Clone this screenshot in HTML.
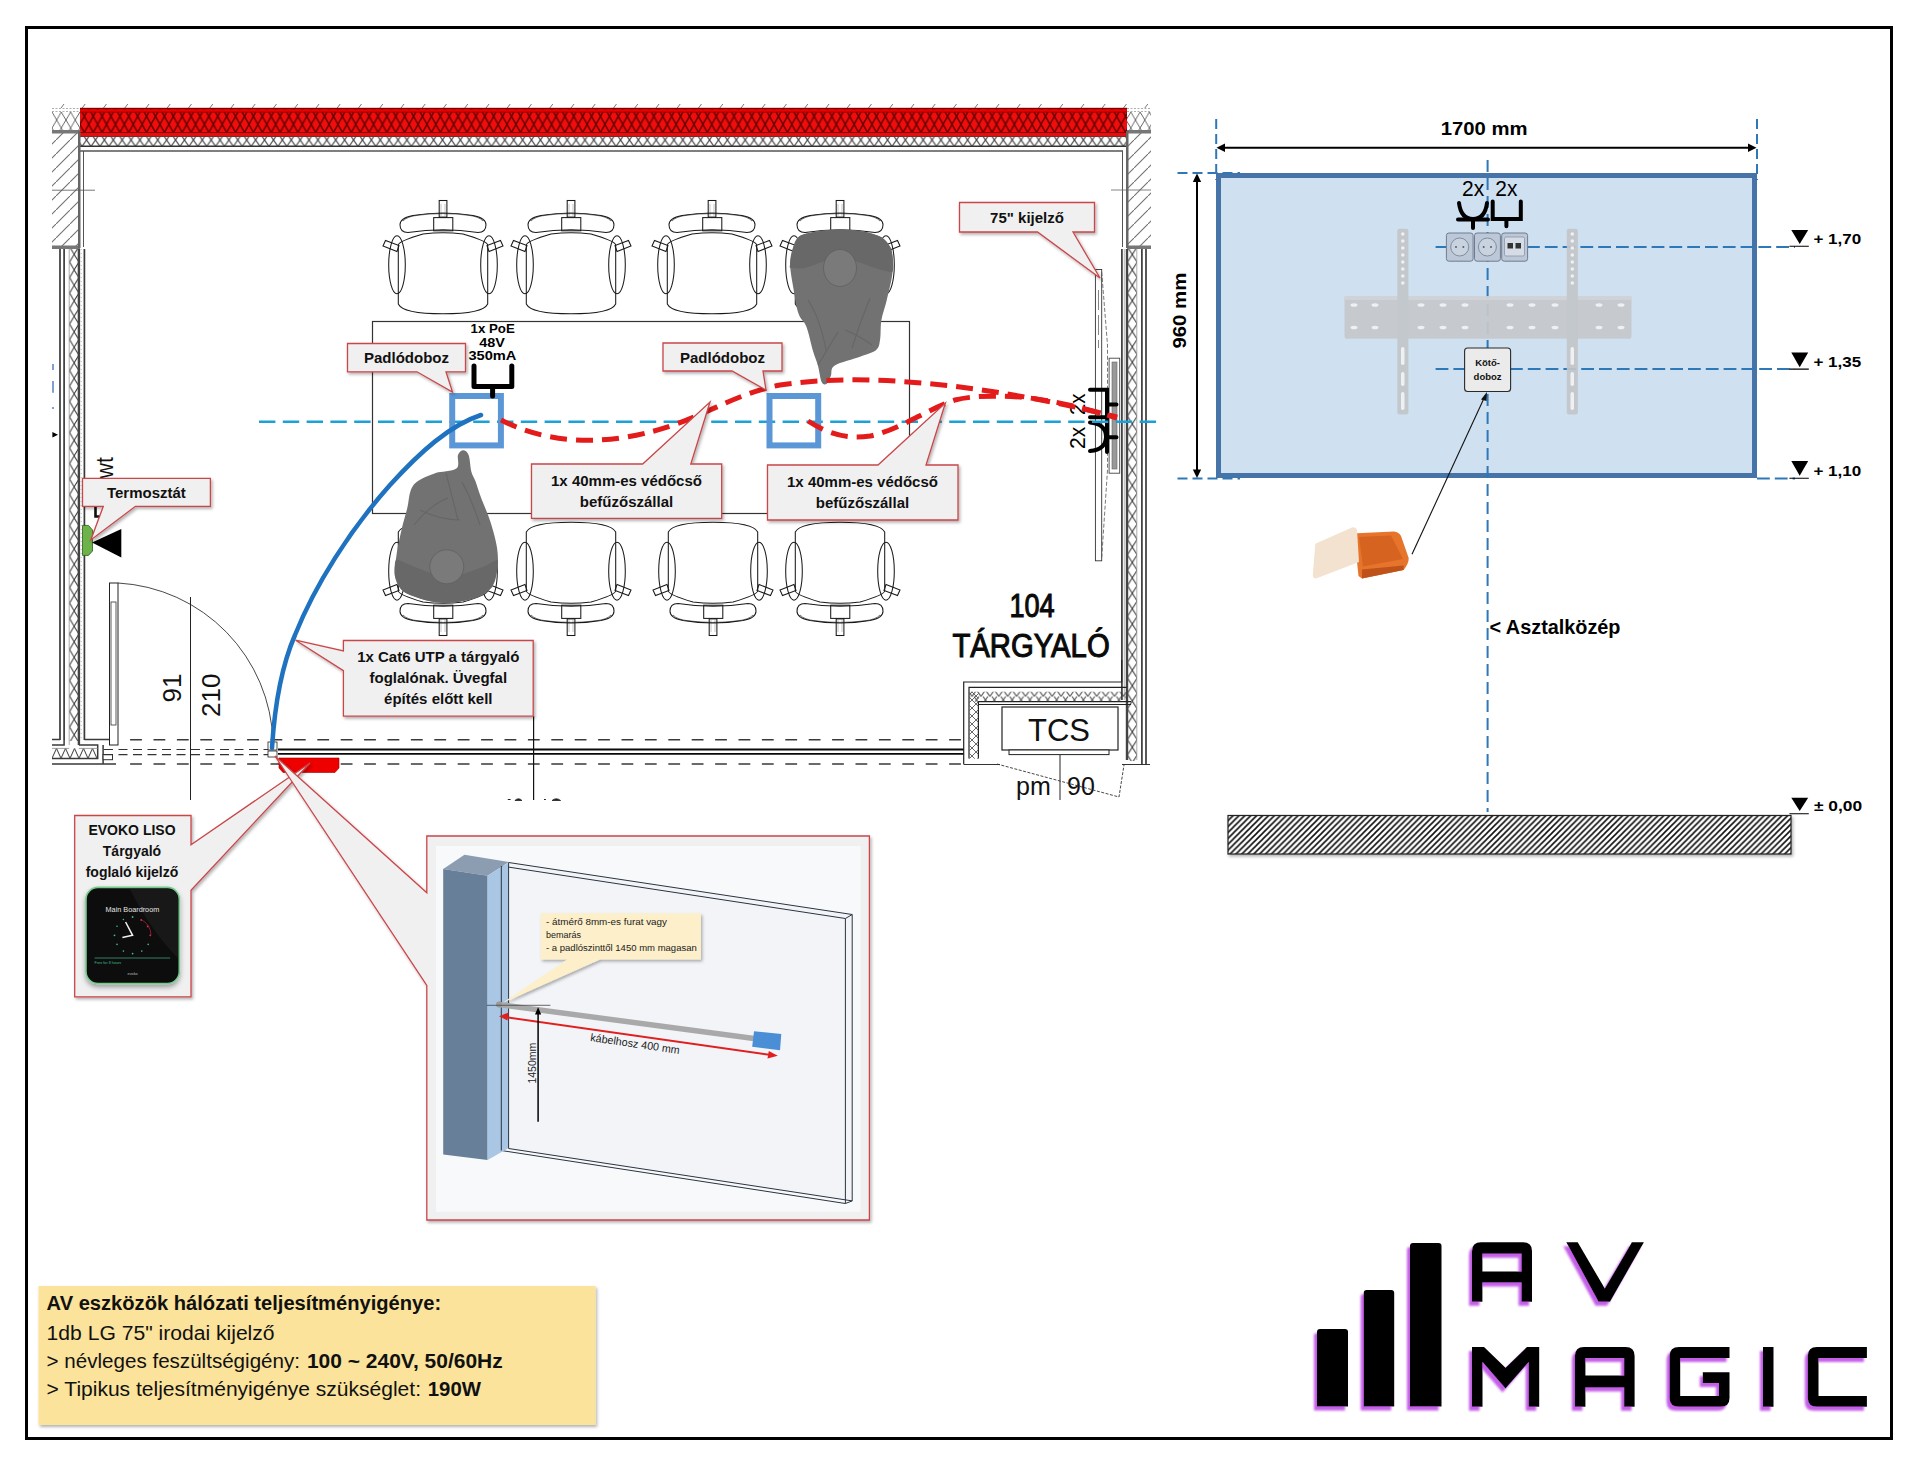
<!DOCTYPE html>
<html><head><meta charset="utf-8">
<style>
html,body{margin:0;padding:0;background:#fff;}
body{width:1920px;height:1467px;overflow:hidden;position:relative;font-family:"Liberation Sans",sans-serif;}
svg{position:absolute;left:0;top:0;}
text{font-family:"Liberation Sans",sans-serif;}
</style></head><body>
<svg width="1920" height="1467" viewBox="0 0 1920 1467">
<defs>
<pattern id="xh" width="8" height="8" patternUnits="userSpaceOnUse"><path d="M0 0L8 8M8 0L0 8" stroke="#444" stroke-width="0.8"/></pattern>
<pattern id="xhr" width="8.9" height="16.2" patternUnits="userSpaceOnUse" x="8.65" y="108.2"><rect width="8.9" height="16.2" fill="#f20d0d"/><path d="M0 0L8.9 16.2M8.9 0L0 16.2" stroke="#6a0000" stroke-width="1.5"/></pattern>
<pattern id="xv" width="9.2" height="15.5" patternUnits="userSpaceOnUse" x="69.6" y="308.6"><path d="M0 0L9.2 15.5M9.2 0L0 15.5" stroke="#333" stroke-width="1"/></pattern>
<pattern id="xv2" width="9.8" height="15.4" patternUnits="userSpaceOnUse" x="1127.4" y="508.6"><path d="M0 0L9.8 15.4M9.8 0L0 15.4" stroke="#333" stroke-width="1"/></pattern>
<pattern id="xtop" width="9.3" height="16" patternUnits="userSpaceOnUse" x="52" y="112"><path d="M0 0L9.3 16M9.3 0L0 16" stroke="#555" stroke-width="0.9"/></pattern>
<pattern id="xhb" width="9" height="20" patternUnits="userSpaceOnUse" x="52" y="738.4"><path d="M0 0L9 20M9 0L0 20" stroke="#333" stroke-width="1"/></pattern>
<pattern id="diag" width="14" height="14" patternUnits="userSpaceOnUse"><path d="M-2 16L16 -2" stroke="#707070" stroke-width="1.1"/></pattern>
<pattern id="floorh" width="5.9" height="5.9" patternUnits="userSpaceOnUse" x="1227.5" y="815.3"><rect width="5.9" height="5.9" fill="#fff"/><path d="M-1 6.9L6.9 -1M-1 1L1 -1M4.9 6.9L6.9 4.9" stroke="#111" stroke-width="1.6"/></pattern>
<pattern id="zig" width="8.9" height="10" patternUnits="userSpaceOnUse" x="2" y="136.5"><path d="M0 -3L8.9 10M8.9 -3L0 10" stroke="#333" stroke-width="1" fill="none"/></pattern>
<g id="chair" fill="none" stroke="#1a1a1a" stroke-width="1.05">
 <rect x="-3.8" y="0.5" width="7.7" height="16.6"/>
 <path d="M-2 4V17M2 4V17" stroke-width="0.5" stroke="#888"/>
 <path d="M-43 24.8Q-43 18 -30 15.5Q0 10.5 30 15.5Q43 18 43 24.8Q43 32.5 35 32.5Q0 27 -35 32.5Q-43 32.5 -43 24.8Z"/>
 <path d="M-40 21Q-36 16.5 -25 15.2Q0 12 25 15.2Q36 16.5 40 21" stroke-width="0.6"/>
 <rect x="-9.3" y="17.6" width="19.1" height="13.2"/>
 <path d="M-44.7 45Q-44 41 -20 34Q0 31.6 20 34Q44 41 44.7 45V104Q40 113.8 0 113.8Q-40 113.8 -44.7 104Z"/>
 <ellipse cx="-46" cy="64.8" rx="8.3" ry="29"/>
 <ellipse cx="46" cy="64.8" rx="8.3" ry="29"/>
 <path d="M-60 46L-57.5 40.5L-44 45.5L-46 51.5Z"/>
 <path d="M60 46L57.5 40.5L44 45.5L46 51.5Z"/>
</g>
<filter id="sh" x="-10%" y="-10%" width="130%" height="140%"><feDropShadow dx="1.5" dy="2" stdDeviation="1.5" flood-color="#000" flood-opacity="0.3"/></filter>
</defs>

<!-- outer frame -->
<rect x="26.5" y="27.5" width="1865" height="1411" fill="none" stroke="#000" stroke-width="3"/>

<!-- ===== FLOOR PLAN ===== -->
<g id="plan">
 <!-- top wall -->
 <path d="M61.0 108L64.0 104M82.2 108L85.2 104M103.5 108L106.5 104M124.8 108L127.8 104M146.0 108L149.0 104M167.2 108L170.2 104M188.5 108L191.5 104M209.8 108L212.8 104M231.0 108L234.0 104M252.2 108L255.2 104M273.5 108L276.5 104M294.8 108L297.8 104M316.0 108L319.0 104M337.2 108L340.2 104M358.5 108L361.5 104M379.8 108L382.8 104M401.0 108L404.0 104M422.2 108L425.2 104M443.5 108L446.5 104M464.8 108L467.8 104M486.0 108L489.0 104M507.2 108L510.2 104M528.5 108L531.5 104M549.8 108L552.8 104M571.0 108L574.0 104M592.2 108L595.2 104M613.5 108L616.5 104M634.8 108L637.8 104M656.0 108L659.0 104M677.2 108L680.2 104M698.5 108L701.5 104M719.8 108L722.8 104M741.0 108L744.0 104M762.2 108L765.2 104M783.5 108L786.5 104M804.8 108L807.8 104M826.0 108L829.0 104M847.2 108L850.2 104M868.5 108L871.5 104M889.8 108L892.8 104M911.0 108L914.0 104M932.2 108L935.2 104M953.5 108L956.5 104M974.8 108L977.8 104M996.0 108L999.0 104M1017.2 108L1020.2 104M1038.5 108L1041.5 104M1059.8 108L1062.8 104M1081.0 108L1084.0 104M1102.2 108L1105.2 104M1123.5 108L1126.5 104M1144.8 108L1147.8 104" stroke="#555" stroke-width="0.8"/>
 <rect x="52" y="112" width="28" height="19" fill="url(#xtop)"/><path d="M52 108.5H80M52 111.5H80" stroke="#999" stroke-width="0.8" stroke-dasharray="2 1.5"/>
 <rect x="1127" y="112" width="24" height="19" fill="url(#xtop)"/><path d="M1127 108.5H1151M1127 111.5H1151" stroke="#999" stroke-width="0.8" stroke-dasharray="2 1.5"/>
 <rect x="80" y="108" width="1047" height="28" fill="url(#xhr)"/>
 <rect x="80" y="107.8" width="1047" height="1.6" fill="#7a0000"/>
 <rect x="80" y="109.4" width="1047" height="2.6" fill="#e00"/>
 <rect x="80" y="111.6" width="1047" height="1" fill="#9a0000"/>
 <rect x="80" y="132" width="1047" height="1" fill="#8a0000"/>
 <rect x="80" y="133" width="1047" height="3.3" fill="#e40e0e"/>
 <rect x="80" y="136" width="1047" height="0.8" fill="#700"/>
 <rect x="80" y="136.5" width="1047" height="10" fill="url(#zig)"/>
 <line x1="80" y1="146.3" x2="1127" y2="146.3" stroke="#333" stroke-width="1.6"/>
 <line x1="80" y1="151" x2="1123" y2="151" stroke="#555" stroke-width="1.5"/>
 <!-- left upper hatched wall -->
 <rect x="52" y="132" width="27" height="115" fill="url(#diag)"/>
 <rect x="52" y="130" width="28" height="3.5" fill="#777"/>
 <rect x="52" y="245.5" width="28" height="3.5" fill="#777"/>
 <rect x="78" y="131" width="2.5" height="117" fill="#666"/>
 <line x1="83.5" y1="151" x2="83.5" y2="247" stroke="#555" stroke-width="1"/>
 <line x1="52" y1="190.2" x2="95" y2="190.2" stroke="#555" stroke-width="0.8"/>
 <!-- right upper hatched wall -->
 <rect x="1128" y="132" width="23" height="115" fill="url(#diag)"/>
 <rect x="1127" y="130" width="24" height="3.5" fill="#777"/>
 <rect x="1127" y="245.5" width="24" height="3.5" fill="#777"/>
 <rect x="1126" y="131" width="2.5" height="117" fill="#666"/>
 <line x1="1122.5" y1="151" x2="1122.5" y2="247" stroke="#555" stroke-width="1"/>
 <line x1="1111" y1="190" x2="1151" y2="190" stroke="#666" stroke-width="0.8"/>
 <!-- left lower wall -->
 <rect x="69.4" y="249" width="9.6" height="492" fill="url(#xv)"/>
 <g stroke="#3a3a3a" fill="none">
  <path d="M60 249V740" stroke-width="1.7"/>
  <path d="M64.1 249V740" stroke-width="1.7"/>
  <path d="M69.2 249V745" stroke-width="0.7" stroke="#888"/>
  <path d="M78.9 249V745" stroke-width="2.4" stroke="#444"/>
  <path d="M81.2 249V740" stroke-width="0.8" stroke="#aaa" stroke-dasharray="1 3"/>
  <path d="M84.4 249V740" stroke-width="1.7"/>
 </g>
 <!-- right lower wall -->
 <rect x="1127.4" y="249" width="9.6" height="512" fill="url(#xv2)"/>
 <g stroke="#3a3a3a" fill="none">
  <path d="M1121.9 249V700" stroke-width="1.7"/>
  <path d="M1124.3 249V700" stroke-width="0.7" stroke="#999"/>
  <path d="M1127 249V760" stroke-width="2.4" stroke="#444"/>
  <path d="M1136.8 249V760" stroke-width="0.8" stroke="#999"/>
  <path d="M1141.9 249V764" stroke-width="1.7"/>
  <path d="M1146 249V764" stroke-width="1.7"/>
 </g>

 <!-- bottom: left wall return -->
 <rect x="52" y="748.4" width="45.7" height="10.1" fill="url(#xhb)"/>
 <path d="M52 739.5H60M52 745H64.1V740M84.4 739.5H115.8M78.9 745H97.7V758.5H52M52 763.9H116M103.1 745V764" stroke="#3a3a3a" stroke-width="1.5" fill="none"/>
 <path d="M52 748.4H69.2M78.9 748.4H97.7" stroke="#888" stroke-width="0.8"/>
 <rect x="103.1" y="754.5" width="9.4" height="5.2" fill="#fff" stroke="#333" stroke-width="1"/>
 
 
 <!-- door leaf -->
 <rect x="109.5" y="583" width="8.5" height="162" fill="#fff" stroke="#222" stroke-width="1"/>
 <rect x="111" y="602" width="5" height="123" fill="none" stroke="#333" stroke-width="0.8"/>
 
 <path d="M118 583A164 164 0 0 1 273 742" fill="none" stroke="#333" stroke-width="0.9"/>
 <line x1="190.5" y1="597" x2="190.5" y2="800" stroke="#222" stroke-width="1"/>
 <text transform="translate(181 702.5) rotate(-90)" font-size="26" fill="#111">91</text>
 <text transform="translate(220 717) rotate(-90)" font-size="26" fill="#111">210</text>
 <!-- dashed lines bottom -->
 <g stroke="#333" stroke-width="1.2" fill="none">
  <path d="M130.1 739.8H965" stroke-dasharray="11.8 11.6" stroke="#3a3a3a" stroke-width="1.5"/>
  <path d="M130.1 764H965" stroke-dasharray="11.8 11.6" stroke="#3a3a3a" stroke-width="1.5"/>
  <path d="M104 749.5H270" stroke-dasharray="9 5.5"/>
  <path d="M104 754.7H270" stroke-dasharray="9 5.5"/>
 </g>
 <!-- glass wall -->
 <path d="M278 749.5H964M278 753.9H964" stroke="#0a0a0a" stroke-width="1.8"/>
 <rect x="268" y="742" width="9" height="8" fill="#fff" stroke="#222" stroke-width="0.8"/>
 <rect x="268" y="751" width="9" height="6" fill="#fff" stroke="#222" stroke-width="0.8"/>
 <line x1="533.6" y1="716" x2="533.6" y2="800" stroke="#111" stroke-width="1.2"/>
 <path d="M507.8 799.5H510.6M544 799.5H545.9" stroke="#222" stroke-width="1"/>
 <path d="M514.9 800.5Q518.5 797 522 800.5ZM552 800.5Q556.3 797 560.6 800.5Z" fill="#222" stroke="#222" stroke-width="0.8"/>
 <!-- red evoko rect -->
 <path d="M279 758H339V768L335 772.5H283L279 768Z" fill="#ee0000" stroke="#900" stroke-width="0.6"/>
 <!-- TCS -->
 <g fill="none" stroke="#222" stroke-width="1.2">
  <path d="M963.7 764.5V682H1121.7V660"/>
  <path d="M969 758.5V687.3H1126.6"/>
  <path d="M978.4 758.5V701.6H1131"/>
  <path d="M978.4 704.5H1131"/>
 </g>
 <rect x="969.5" y="691.7" width="158" height="10" fill="url(#zig)" opacity="0.9"/>
 <rect x="969.5" y="691.7" width="9" height="67" fill="url(#xh)"/>
 <rect x="1002" y="707" width="116" height="43" fill="#fff" stroke="#222" stroke-width="1.2"/>
 <rect x="1009" y="750" width="100" height="4.6" fill="#fff" stroke="#222" stroke-width="1"/>
 <text x="1059" y="740.5" font-size="31" text-anchor="middle" fill="#111">TCS</text>
 <line x1="1060" y1="755" x2="1060" y2="800" stroke="#222" stroke-width="1"/>
 <text x="1016" y="794.5" font-size="25" fill="#111">pm</text>
 <text x="1067" y="794.5" font-size="25" fill="#111">90</text>
 <path d="M997 764L1119 797L1124 765" stroke="#333" stroke-width="0.9" stroke-dasharray="3 1.5" fill="none"/>
 <path d="M964 764.5H1000M1122 764.5H1150" stroke="#333" stroke-width="1" fill="none"/>

 <!-- table -->
 <rect x="372.5" y="321.5" width="537" height="192" fill="none" stroke="#333" stroke-width="1.2"/>

 <!-- chairs -->
 <use href="#chair" x="443" y="200"/>
 <use href="#chair" x="571" y="200"/>
 <use href="#chair" x="712" y="200"/>
 <use href="#chair" x="840" y="200"/>
 <use href="#chair" transform="translate(443 636) scale(1 -1)"/>
 <use href="#chair" transform="translate(571 636) scale(1 -1)"/>
 <use href="#chair" transform="translate(713 636) scale(1 -1)"/>
 <use href="#chair" transform="translate(840 636) scale(1 -1)"/>
</g>

<!-- people -->
<g id="people">
 <path d="M799.8 235.9C804.6 232.9 814.7 231.8 821.8 230.7C828.9 229.6 835.6 229.3 842.5 229.4C849.4 229.5 856.8 230.1 863.3 231.4C869.8 232.7 876.9 234.5 881.4 237.2C885.9 239.9 888.6 243.5 890.5 247.6C892.4 251.7 892.8 256.8 893.0 261.8C893.2 266.8 892.9 270.9 891.8 277.4C890.7 283.9 888.3 293.6 886.6 300.7C884.9 307.8 882.5 313.6 881.4 320.1C880.3 326.6 881.0 334.5 880.1 339.5C879.2 344.5 879.4 347.1 876.2 349.9C873.0 352.7 867.6 353.8 860.7 356.4C853.8 359.0 839.8 362.2 834.8 365.4C829.8 368.6 832.2 372.8 830.9 375.8C829.6 378.8 828.5 382.5 827.0 383.6C825.5 384.7 823.3 385.3 821.8 382.3C820.3 379.3 819.4 370.8 817.9 365.4C816.4 360.0 814.6 356.4 812.7 349.9C810.8 343.4 808.7 332.7 806.3 326.6C803.9 320.6 800.7 320.1 798.5 313.6C796.3 307.1 794.7 295.9 793.3 287.7C791.9 279.5 790.2 270.9 790.1 264.4C790.0 257.9 791.1 253.7 792.7 248.9C794.3 244.2 794.9 238.9 799.8 235.9Z" fill="#727272"/>
 <path d="M799.8 235.9C802.7 234.1 817.5 231.3 821.8 230.7C826.1 230.0 838.4 229.3 842.5 229.4C846.6 229.5 859.4 230.6 863.3 231.4C867.2 232.2 878.7 235.6 881.4 237.2C884.1 238.8 889.3 245.1 890.5 247.6C891.7 250.1 892.9 259.4 893.0 261.8C893.1 264.2 893.8 271.4 892.0 272.0C890.2 272.6 878.4 269.0 875.0 268.0C871.6 267.0 861.5 263.0 858.0 262.0C854.5 261.0 843.6 258.0 840.0 258.0C836.4 258.0 825.5 261.0 822.0 262.0C818.5 263.0 808.1 267.4 805.0 268.0C801.9 268.6 792.0 268.4 790.5 268.0C789.0 267.6 789.9 266.3 790.1 264.4C790.3 262.5 791.7 251.8 792.7 248.9C793.7 246.1 796.9 237.7 799.8 235.9Z" fill="#686868"/>
 <ellipse cx="840" cy="268" rx="16.5" ry="18.5" fill="#7a7a7a" stroke="#5f5f5f" stroke-width="0.8"/>
 <path d="M808 300Q820 318 826 350M870 298Q860 322 852 348M818 365L838 332M845 330Q860 336 872 345" stroke="#666" stroke-width="1.1" fill="none"/>
 <path d="M463.2 450.2C465.0 450.2 467.2 451.5 468.6 455.0C470.0 458.5 470.2 467.1 471.3 471.4C472.4 475.7 473.8 476.7 475.4 481.0C477.0 485.3 478.4 490.5 480.9 497.3C483.4 504.1 487.7 513.2 490.4 521.8C493.1 530.4 496.1 541.0 497.2 549.0C498.3 557.0 498.1 563.1 497.2 569.5C496.3 575.9 495.4 582.4 491.8 587.2C488.2 592.0 482.7 595.5 475.4 598.1C468.1 600.7 456.6 602.7 448.2 603.0C439.8 603.3 432.5 602.0 425.0 600.0C417.5 598.0 408.2 595.2 403.2 591.3C398.2 587.3 396.1 582.2 395.0 576.3C393.9 570.4 395.3 563.8 396.4 555.9C397.5 548.0 400.0 536.6 401.8 528.6C403.6 520.6 405.8 514.4 407.3 508.0C408.8 501.6 408.9 494.9 410.7 490.4C412.5 485.9 414.0 483.8 418.0 481.0C422.0 478.2 428.1 475.5 434.5 473.4C440.9 471.3 452.4 471.7 456.3 468.6C460.2 465.5 456.9 458.1 458.0 455.0C459.1 451.9 461.4 450.2 463.2 450.2Z" fill="#727272"/>
 <path d="M396.0 560.0C397.5 558.9 406.8 563.8 410.0 565.0C413.2 566.2 424.3 570.9 428.0 572.0C431.7 573.1 443.2 575.9 447.0 576.0C450.8 576.1 462.2 574.0 466.0 573.0C469.8 572.0 481.9 567.3 485.0 566.0C488.1 564.7 496.3 559.6 497.5 560.0C498.7 560.4 497.8 566.8 497.2 569.5C496.6 572.2 494.0 584.3 491.8 587.2C489.6 590.1 479.8 596.5 475.4 598.1C471.0 599.7 453.2 602.8 448.2 603.0C443.2 603.2 429.5 601.2 425.0 600.0C420.5 598.8 406.2 593.7 403.2 591.3C400.2 588.9 395.7 579.4 395.0 576.3C394.3 573.2 394.5 561.1 396.0 560.0Z" fill="#686868"/>
 <ellipse cx="446.8" cy="566.8" rx="17" ry="17" fill="#7a7a7a" stroke="#606060" stroke-width="0.8"/>
 <path d="M414 525Q430 505 448 498M480 525Q472 500 462 482M446 473L458 520M420 510Q440 520 460 520" stroke="#666" stroke-width="1.1" fill="none"/>
</g>

<!-- small marks left of wall -->
<path d="M53 364V370M53 381V392.7M53 407V409" stroke="#3060b0" stroke-width="1.2"/>
<path d="M52.4 431.9L58 434.7L52.4 437.6Z" fill="#000"/>
<!-- TV on right wall -->
<g>
 <rect x="1095.4" y="269.5" width="6.3" height="291.3" fill="#fff" stroke="#333" stroke-width="0.9"/>
 <path d="M1101.7 272L1107.5 345L1107.5 470L1101.7 558" stroke="#555" stroke-width="0.8" stroke-dasharray="4 2" fill="none"/>
 <path d="M1098.5 290V310M1098.5 315V335M1098.5 340V348" stroke="#666" stroke-width="0.8"/>
 <rect x="1109.1" y="358.2" width="10.6" height="115" fill="#fff" stroke="#444" stroke-width="0.9"/>
 <rect x="1112" y="362" width="5" height="107" fill="#999" stroke="#666" stroke-width="0.6"/>
 <g stroke="#000" stroke-width="4" fill="none" stroke-linecap="round">
  <path d="M1090 389.8H1107V417.3H1090M1107 404.6H1116.5"/>
  <path d="M1090 422.5Q1106 424 1106 436.7Q1106 449.5 1090 451M1107 420V452M1107 437.3H1116.5"/>
 </g>
 <g font-size="21.5" fill="#000">
  <text transform="translate(1084.8 415) rotate(-90)" font-size="22.5" textLength="21.5" lengthAdjust="spacingAndGlyphs">2x</text>
  <text transform="translate(1084.8 449) rotate(-90)" font-size="22.5" textLength="22.3" lengthAdjust="spacingAndGlyphs">2x</text>
 </g>
</g>
<!-- thermostat -->
<text transform="translate(113.4 478.5) rotate(-90)" font-size="24" fill="#111" textLength="21.5" lengthAdjust="spacingAndGlyphs">wt</text>
<path d="M95.5 507V516.5H100.5" stroke="#111" stroke-width="2.6" fill="none"/>
<path d="M82.5 525.4H88.5L92.5 530V551L88.5 555.4H82.5Z" fill="#6db34a" stroke="#2d5a1c" stroke-width="0.8"/>
<path d="M92 542.5L121.3 529V557.5Z" fill="#000"/>

<!-- cyan dashed axis -->
<path d="M259 421.8H1162" stroke="#1aa1d6" stroke-width="2.6" stroke-dasharray="16.4 7.4" fill="none"/>

<!-- blue floor boxes -->
<rect x="452.2" y="396" width="48.7" height="49.4" fill="none" stroke="#5b97d6" stroke-width="6"/>
<rect x="769.5" y="396" width="48.7" height="49.4" fill="none" stroke="#5b97d6" stroke-width="6"/>

<!-- PoE connector -->
<path d="M474 366V386.6H511.8V366M492.6 386.6V396" stroke="#000" stroke-width="5" stroke-linecap="round" stroke-linejoin="round" fill="none"/>
<g font-weight="bold" font-size="13.5" fill="#000">
 <text x="470.5" y="333" textLength="44.3" lengthAdjust="spacingAndGlyphs">1x PoE</text>
 <text x="479.3" y="346.6" textLength="25.7" lengthAdjust="spacingAndGlyphs">48V</text>
 <text x="468.4" y="360.3" textLength="48" lengthAdjust="spacingAndGlyphs">350mA</text>
</g>

<!-- red dashed conduits -->
<g stroke="#e31b1b" stroke-width="5" fill="none" stroke-dasharray="17 9">
 <path d="M501 420C560 450 620 440 650 432C700 420 730 395 780 385C840 376 900 380 960 387C1010 393 1070 405 1117 417"/>
 <path d="M808 421C825 432 845 440 870 436C900 430 925 410 955 400C975 395 1000 396 1020 397C1055 400 1090 410 1117 418"/>
</g>

<!-- blue cable -->
<path d="M272 748C275 700 282 665 295 635C315 585 350 530 390 485C420 452 450 425 481 415" stroke="#1f72c0" stroke-width="4.5" fill="none" stroke-linecap="round"/>

<!-- callouts -->
<g fill="#f0f0f0" stroke="#c9464a" stroke-width="1.3" filter="url(#sh)">
 <path d="M347.5 343.5H465.5V371.8H446L452.5 392L417 371.8H347.5Z"/>
 <path d="M663 343H782V371H763L766 390L732 371H663Z"/>
 <path d="M959.5 202.5H1094.5V232H1073L1100 278L1037.5 232H959.5Z"/>
 <path d="M531.5 464H642.7L710 402L690.8 464H721.7V518.4H531.5Z"/>
 <path d="M767.5 465H878L945.4 403L926 465H958V520H767.5Z"/>
 <path d="M82.5 478.3H210.4V506.3H135.4L90.8 540L103.3 506.3H82.5Z"/>
 <path d="M343.4 640.5H533.2V716.2H343.4V670.6L295.6 640.2L343.4 651Z"/>
 <path d="M74.7 815.5H191V844.7L310 763L191 890.2V996.8H74.7Z"/>
 <path d="M426.8 836H869.4V1220H426.8V985.4L275 756L426.8 892.7Z"/>
</g>
<g font-weight="bold" font-size="15" text-anchor="middle" fill="#111">
 <text x="406.5" y="363">Padlódoboz</text>
 <text x="722.5" y="363">Padlódoboz</text>
 <text x="1027" y="222.5">75" kijelző</text>
 <text x="626.5" y="486.4">1x 40mm-es védőcső</text>
 <text x="626.5" y="507">befűzőszállal</text>
 <text x="862.5" y="487.4">1x 40mm-es védőcső</text>
 <text x="862.5" y="508">befűzőszállal</text>
 <text x="146.4" y="497.5">Termosztát</text>
 <text x="438.3" y="662.2">1x Cat6 UTP a tárgyaló</text>
 <text x="438.3" y="683.2">foglalónak. Üvegfal</text>
 <text x="438.3" y="704.3">építés előtt kell</text>
</g>
<g font-weight="bold" font-size="14" text-anchor="middle" fill="#111">
 <text x="132" y="834.6">EVOKO LISO</text>
 <text x="132" y="856.2">Tárgyaló</text>
 <text x="132" y="876.5">foglaló kijelző</text>
</g>

<!-- room label -->
<g font-size="33.5" fill="#0a0a0a" stroke="#0a0a0a" stroke-width="1.1">
 <text x="1009.4" y="617" textLength="45.2" lengthAdjust="spacingAndGlyphs">104</text>
 <text x="952.4" y="657" textLength="157.3" lengthAdjust="spacingAndGlyphs">TÁRGYALÓ</text>
</g>

<!-- ===== RIGHT PANEL ===== -->
<g id="right">
 <rect x="1218.5" y="175.5" width="536" height="300" fill="#cfe1f1" stroke="#4673a8" stroke-width="5"/>
 <!-- dimension lines -->
 <g stroke="#2e78b8" stroke-width="2" fill="none" stroke-dasharray="10 5">
  <path d="M1216.2 119V180"/>
  <path d="M1757 119V180"/>
  <path d="M1177.5 173H1240"/>
  <path d="M1177.5 478.5H1240"/>
  <path d="M1487.6 160V812" stroke-dasharray="12 6"/>
  <path d="M1435.6 247H1446M1527 247H1795" stroke-dasharray="12.8 5"/>
  <path d="M1435.6 369H1465M1510 369H1795" stroke-dasharray="12.8 5"/>
  <path d="M1757 478.5H1795" stroke-dasharray="12.8 5"/>
 </g>
 <g stroke="#000" stroke-width="2" fill="none">
  <path d="M1222 147.8H1751"/>
  <path d="M1197 180V472"/>
 </g>
 <g fill="#000">
  <path d="M1216.5 147.8L1225 143.5V152Z"/>
  <path d="M1756.5 147.8L1748 143.5V152Z"/>
  <path d="M1197 173.5L1192.8 182V182H1201.2Z"/>
  <path d="M1197 478L1192.8 469.5H1201.2Z"/>
 </g>
 <text x="1440.8" y="134.5" font-size="19" font-weight="bold" textLength="86.8" lengthAdjust="spacingAndGlyphs">1700 mm</text>
 <text transform="translate(1186 348.6) rotate(-90)" font-size="19" font-weight="bold" textLength="76" lengthAdjust="spacingAndGlyphs">960 mm</text>
 <!-- level markers -->
 <g fill="#000">
  <path d="M1791.3 230.1H1808.2L1799.7 243.9Z"/>
  <path d="M1791.3 352.5H1808.2L1799.7 367.2Z"/>
  <path d="M1791.3 461.1H1808.2L1799.7 475.8Z"/>
  <path d="M1791.3 797.8H1808.2L1799.7 811Z"/>
 </g>
 <g stroke="#000" stroke-width="1.1">
  <path d="M1789.4 246.3H1808.8M1789.4 369.1H1808.8M1789.4 478.2H1808.8M1789.4 813.8H1808.8"/>
 </g>
 <g font-size="15" font-weight="bold" fill="#000">
  <text x="1813.4" y="243.6" textLength="47.8" lengthAdjust="spacingAndGlyphs">+ 1,70</text>
  <text x="1813.4" y="367.3" textLength="47.8" lengthAdjust="spacingAndGlyphs">+ 1,35</text>
  <text x="1813.4" y="475.6" textLength="47.8" lengthAdjust="spacingAndGlyphs">+ 1,10</text>
  <text x="1814" y="811.2" textLength="48.2" lengthAdjust="spacingAndGlyphs">± 0,00</text>
 </g>
 <text x="1489.5" y="634.2" font-size="20" font-weight="bold" textLength="131" lengthAdjust="spacingAndGlyphs">&lt; Asztalközép</text>
 <!-- TV mount -->
 <g opacity="0.92">
  <rect x="1344.5" y="296" width="287" height="42.7" rx="2" fill="#c6c9cc"/>
  <rect x="1344.5" y="296" width="287" height="4" fill="#cfd2d5"/>
  <rect x="1397.3" y="228.8" width="11.1" height="185.7" rx="2" fill="#c3c6ca"/>
  <rect x="1566.8" y="228.8" width="11.1" height="185.7" rx="2" fill="#c3c6ca"/>
 </g>
 <g fill="#eef0f2">
  <g id="holes">
   <ellipse cx="1354" cy="305" rx="3.5" ry="1.8"/><ellipse cx="1375" cy="305" rx="3.5" ry="1.8"/>
   <ellipse cx="1421" cy="305" rx="3.5" ry="1.8"/><ellipse cx="1443" cy="305" rx="3.5" ry="1.8"/><ellipse cx="1465" cy="305" rx="3.5" ry="1.8"/>
   <ellipse cx="1510" cy="305" rx="3.5" ry="1.8"/><ellipse cx="1532" cy="305" rx="3.5" ry="1.8"/><ellipse cx="1555" cy="305" rx="3.5" ry="1.8"/>
   <ellipse cx="1599" cy="305" rx="3.5" ry="1.8"/><ellipse cx="1621" cy="305" rx="3.5" ry="1.8"/>
  </g>
  <use href="#holes" y="22.5"/>
  <circle cx="1402.8" cy="234" r="1.8"/><circle cx="1402.8" cy="241" r="1.8"/><circle cx="1402.8" cy="248" r="1.8"/><circle cx="1402.8" cy="255" r="1.8"/><circle cx="1402.8" cy="262" r="1.8"/><circle cx="1402.8" cy="269" r="1.8"/><circle cx="1402.8" cy="276" r="1.8"/><circle cx="1402.8" cy="283" r="1.8"/>
  <circle cx="1572.3" cy="234" r="1.8"/><circle cx="1572.3" cy="241" r="1.8"/><circle cx="1572.3" cy="248" r="1.8"/><circle cx="1572.3" cy="255" r="1.8"/><circle cx="1572.3" cy="262" r="1.8"/><circle cx="1572.3" cy="269" r="1.8"/><circle cx="1572.3" cy="276" r="1.8"/><circle cx="1572.3" cy="283" r="1.8"/>
  <rect x="1401" y="347" width="3.5" height="18" rx="1.7"/><rect x="1401" y="372" width="3.5" height="14" rx="1.7"/><rect x="1401" y="392" width="3.5" height="18" rx="1.7"/>
  <rect x="1570.5" y="347" width="3.5" height="18" rx="1.7"/><rect x="1570.5" y="372" width="3.5" height="14" rx="1.7"/><rect x="1570.5" y="392" width="3.5" height="18" rx="1.7"/>
 </g>
 <!-- sockets -->
 <g stroke="#6f7c8e" stroke-width="1" fill="#bcc8d8">
  <rect x="1446.4" y="233" width="26.7" height="28.2" rx="2.5"/>
  <rect x="1474.5" y="233" width="25.9" height="28.2" rx="2.5"/>
  <rect x="1501.7" y="233" width="25.9" height="28.2" rx="2.5"/>
 </g>
 <g stroke="#6f7c8e" stroke-width="0.8" fill="#c9d3df">
  <circle cx="1459.7" cy="247" r="9"/>
  <circle cx="1487.4" cy="247" r="9"/>
 </g>
 <rect x="1504.5" y="237" width="20" height="19" rx="1.5" fill="#d5dce6" stroke="#8a96a6" stroke-width="0.8"/>
 <rect x="1507.5" y="243" width="5.5" height="5.5" fill="#333"/>
 <rect x="1515.5" y="243" width="5.5" height="5.5" fill="#333"/>
 <g fill="#55606e"><circle cx="1456" cy="247" r="1"/><circle cx="1463.4" cy="247" r="1"/><circle cx="1483.7" cy="247" r="1"/><circle cx="1491" cy="247" r="1"/></g>
 <!-- connector symbols -->
 <g stroke="#000" stroke-width="4" fill="none" stroke-linecap="round">
  <path d="M1459 203Q1461 219 1473 219Q1485 219 1487 203"/>
  <path d="M1458 219.4H1488M1473 219.4V228"/>
  <path d="M1492.7 201.5V219H1520.8V201.5M1506.4 219V226.2"/>
 </g>
 <g font-size="21.5" fill="#000">
  <text x="1462" y="196.4" textLength="22.2" lengthAdjust="spacingAndGlyphs">2x</text>
  <text x="1495.3" y="196.4" textLength="22.1" lengthAdjust="spacingAndGlyphs">2x</text>
 </g>
 <!-- Kötő-doboz -->
 <rect x="1464.6" y="348" width="46" height="43.5" rx="3" fill="#ebebeb" stroke="#2a2a2a" stroke-width="1.1"/>
 <g font-size="9.5" font-weight="bold" text-anchor="middle" fill="#111">
  <text x="1487.6" y="366">Kötő-</text>
  <text x="1487.6" y="379.6">doboz</text>
 </g>
 <path d="M1412 554.3L1485.5 395" stroke="#111" stroke-width="1.1"/>
 <path d="M1487 392L1481 399.5L1486.5 401Z" fill="#111"/>
 <!-- orange junction box -->
 <path d="M1352 533.5L1394 531.4Q1399 532 1401 536L1408.7 558Q1409 563 1403.6 570L1362 578.5L1358.5 576L1357 562Z" fill="#e6742b"/>
 <path d="M1359 537L1391 535.5L1403 559L1363 566.5Z" fill="#d6631f"/>
 <path d="M1362 569.5L1403.6 565.5L1403.6 570L1362 578.5Z" fill="#bf521b"/>
 <path d="M1315.3 543.8L1352 527.5Q1356 526.5 1357 530L1359 562L1316 578.4Q1312.8 578.4 1312.8 575Z" fill="#f3e2cf"/>
 <rect x="1228" y="815.5" width="563" height="38.5" fill="url(#floorh)" stroke="#222" stroke-width="1.2" filter="url(#sh)"/>
</g>

<!-- picture inside callout -->
<g id="pic">
 <rect x="436" y="846" width="424.4" height="365.8" fill="#f8f9fb"/>
 <!-- glass panel -->
 <path d="M508.6 862.5L852.2 914.5V1200.9L508.6 1148.5Z" fill="#f3f4f8"/>
 <g stroke="#2b3440" stroke-width="1" fill="none">
  <path d="M501.3 866L845.4 918.5V1203.5L501.3 1150.5"/>
  <path d="M508.6 862.5L852.2 914.5V1200.9L845.4 1203.5"/>
  <path d="M845.4 918.5L852.2 914.5"/>
  <path d="M508.6 1148.5L852.2 1200.9"/>
 </g>
 <!-- pillar -->
 <path d="M443.2 869L464.5 854.8L508.9 862L487.6 875.7Z" fill="#8c9cb1"/>
 <path d="M443.2 869L487.6 875.7V1160L443.2 1154.5Z" fill="#687f99"/>
 <path d="M487.6 875.7L508.6 862.5V1148L487.6 1160Z" fill="#a9c6e4"/>
 <path d="M501.3 866V1150.5M508.6 862.5V1148.5" stroke="#2b3440" stroke-width="1"/>
 <!-- tooltip -->
 <path d="M540.8 913.2H700.9V959.5H600L501.8 1003.2L567.3 959.5H540.8Z" fill="#fcefc9" filter="url(#sh)"/>
 <g font-size="9.6" fill="#222">
  <text x="546" y="925.4" textLength="121" lengthAdjust="spacingAndGlyphs">- átmérő 8mm-es furat vagy</text>
  <text x="546" y="937.7" textLength="35" lengthAdjust="spacingAndGlyphs">bemarás</text>
  <text x="546" y="950.5" textLength="150.8" lengthAdjust="spacingAndGlyphs">- a padlószinttől 1450 mm magasan</text>
 </g>
 <!-- cable -->
 <path d="M499 1004.5L754 1038.6" stroke="#a9a9a9" stroke-width="5.5"/>
 <circle cx="499" cy="1004.5" r="3" fill="#999"/>
 <path d="M486.8 1005.3H550.4" stroke="#444" stroke-width="0.8"/>
 <path d="M754 1031.3L781.3 1034L780 1050.3L752.2 1046.8Z" fill="#4a8fd6"/>
 <!-- red arrow -->
 <path d="M505 1017L771 1055" stroke="#e02020" stroke-width="2"/>
 <path d="M499 1016.3L508.5 1012.5L507.5 1020.5Z" fill="#e02020"/>
 <path d="M777.8 1055.8L767.5 1058.5L768.8 1051Z" fill="#e02020"/>
 <text transform="translate(590 1041) rotate(8.3)" font-size="11" fill="#222" textLength="90" lengthAdjust="spacingAndGlyphs">kábelhosz 400 mm</text>
 <!-- vertical arrow -->
 <path d="M538.1 1121.8V1012" stroke="#000" stroke-width="1.5"/>
 <path d="M538.1 1007.3L535 1014.5H541.2Z" fill="#000"/>
 <text transform="translate(535.5 1083.6) rotate(-90)" font-size="10" fill="#222" textLength="41" lengthAdjust="spacingAndGlyphs">1450mm</text>
</g>

<!-- evoko device -->
<g id="evoko">
 <filter id="evsh" x="-20%" y="-20%" width="140%" height="150%"><feGaussianBlur in="SourceAlpha" stdDeviation="2.5"/><feOffset dy="2.5" result="b"/><feFlood flood-color="#000" flood-opacity="0.35"/><feComposite in2="b" operator="in"/><feMerge><feMergeNode/><feMergeNode in="SourceGraphic"/></feMerge></filter>
 <rect x="86" y="887.4" width="93.3" height="96.1" rx="12" fill="#0b0b0b" stroke="#74c98c" stroke-width="1.6" filter="url(#evsh)"/>
 <path d="M130 889Q150 930 178 958V900Q178 889 167 889Z" fill="#1e1e1e" opacity="0.7"/>
 <text x="132.4" y="911.7" font-size="7.6" fill="#e6e6e6" text-anchor="middle" textLength="53.7" lengthAdjust="spacingAndGlyphs">Main Boardroom</text>
 <g fill="#3fbf8f">
  <circle cx="132.6" cy="917" r="0.9"/><circle cx="132.6" cy="953.6" r="0.9"/>
  <circle cx="114.5" cy="935.3" r="0.9"/>
  <circle cx="123.4" cy="919.5" r="0.8"/><circle cx="141.8" cy="951.1" r="0.8"/>
  <circle cx="117" cy="926.2" r="0.8"/><circle cx="148.2" cy="944.4" r="0.8"/>
  <circle cx="117" cy="944.4" r="0.8"/><circle cx="123.4" cy="951.1" r="0.8"/>
 </g>
 <path d="M141.2 919.5A18.4 18.4 0 0 1 151 935.3" stroke="#a0203a" stroke-width="1" fill="none" opacity="0.8"/>
 <g fill="#d0304a"><circle cx="141.2" cy="920" r="0.9"/><circle cx="147.6" cy="926.4" r="0.9"/><circle cx="150.2" cy="935.3" r="0.9"/></g>
 <path d="M125.6 922L132.6 935.3L122.4 937.6" stroke="#f2f2f2" stroke-width="1.5" fill="none"/>
 <path d="M94.6 958H170.2" stroke="#3fa07a" stroke-width="0.8"/>
 <text x="94.6" y="963.5" font-size="3.6" fill="#3fbf8f" textLength="26.6" lengthAdjust="spacingAndGlyphs">Free for 8 hours</text>
 <text x="132.6" y="974.5" font-size="3.8" fill="#bbb" text-anchor="middle">evoko</text>
</g>

<!-- yellow note -->
<rect x="38.5" y="1286" width="557" height="139" fill="#fbe39b" filter="url(#sh)"/>
<g font-size="19.5" fill="#111">
 <text x="46.6" y="1310" font-weight="bold" textLength="394.6" lengthAdjust="spacingAndGlyphs">AV eszközök hálózati teljesítményigénye:</text>
 <text x="46.6" y="1339.7" textLength="228" lengthAdjust="spacingAndGlyphs">1db LG 75" irodai kijelző</text>
 <text x="46.6" y="1367.8" textLength="253.4" lengthAdjust="spacingAndGlyphs">&gt; névleges feszültségigény:</text>
 <text x="306.9" y="1367.8" font-weight="bold" textLength="195.9" lengthAdjust="spacingAndGlyphs">100 ~ 240V, 50/60Hz</text>
 <text x="46.6" y="1396" textLength="374.4" lengthAdjust="spacingAndGlyphs">&gt; Tipikus teljesítményigénye szükséglet:</text>
 <text x="427.8" y="1396" font-weight="bold" textLength="53.2" lengthAdjust="spacingAndGlyphs">190W</text>
</g>

<!-- logo -->
<filter id="purp" x="-20%" y="-20%" width="140%" height="140%">
 <feOffset in="SourceAlpha" dx="-3.5" dy="3.5" result="o"/>
 <feGaussianBlur in="o" stdDeviation="1.3" result="b"/>
 <feFlood flood-color="#c45ee8"/>
 <feComposite in2="b" operator="in" result="s"/>
 <feMerge><feMergeNode in="s"/><feMergeNode in="SourceGraphic"/></feMerge>
</filter>
<g fill="#000" filter="url(#purp)" fill-rule="evenodd">
 <path d="M1317 1406.5V1332Q1317 1329 1320 1329H1345Q1348 1329 1348 1332V1406.5Z"/>
 <path d="M1363.7 1406.5V1293Q1363.7 1290 1366.7 1290H1391.2Q1394.2 1290 1394.2 1293V1406.5Z"/>
 <path d="M1410 1406.5V1246Q1410 1243 1413 1243H1438.5Q1441.5 1243 1441.5 1246V1406.5Z"/>
 <path d="M1472 1301.7V1251Q1472 1242.3 1481 1242.3H1523Q1532 1242.3 1532 1251V1301.7H1521.5V1282.4H1482.4V1301.7ZM1482.4 1253.8V1271.5H1521.5V1253.8Z"/>
 <path d="M1566.3 1242.3H1577.7L1604.8 1288.6L1631.9 1242.3H1643.9L1610 1301.7H1598.5Z"/>
 <path d="M1472 1406.8V1347H1484L1505.5 1367.8L1527 1347H1539.2V1406.8H1528.7V1362L1505.5 1388.6L1482.5 1362V1406.8Z"/>
 <path d="M1574.9 1406.8V1356Q1574.9 1347 1584 1347H1625.6Q1634.6 1347 1634.6 1356V1406.8H1624.1V1387.5H1585.4V1406.8ZM1585.4 1358V1375.5H1624.1V1358Z"/>
 <path d="M1729.5 1347H1679Q1669.6 1347 1669.6 1356V1398Q1669.6 1406.8 1679 1406.8H1720.5Q1729.5 1406.8 1729.5 1398V1372.2H1702.8V1383H1719V1396H1680.2V1358H1729.5Z"/>
 <path d="M1763 1347H1773.5V1406.8H1763Z"/>
 <path d="M1866.9 1347H1817Q1807.8 1347 1807.8 1356V1398Q1807.8 1406.8 1817 1406.8H1866.9V1396H1818.5V1358H1866.9Z"/>
</g>

</svg>
</body></html>
